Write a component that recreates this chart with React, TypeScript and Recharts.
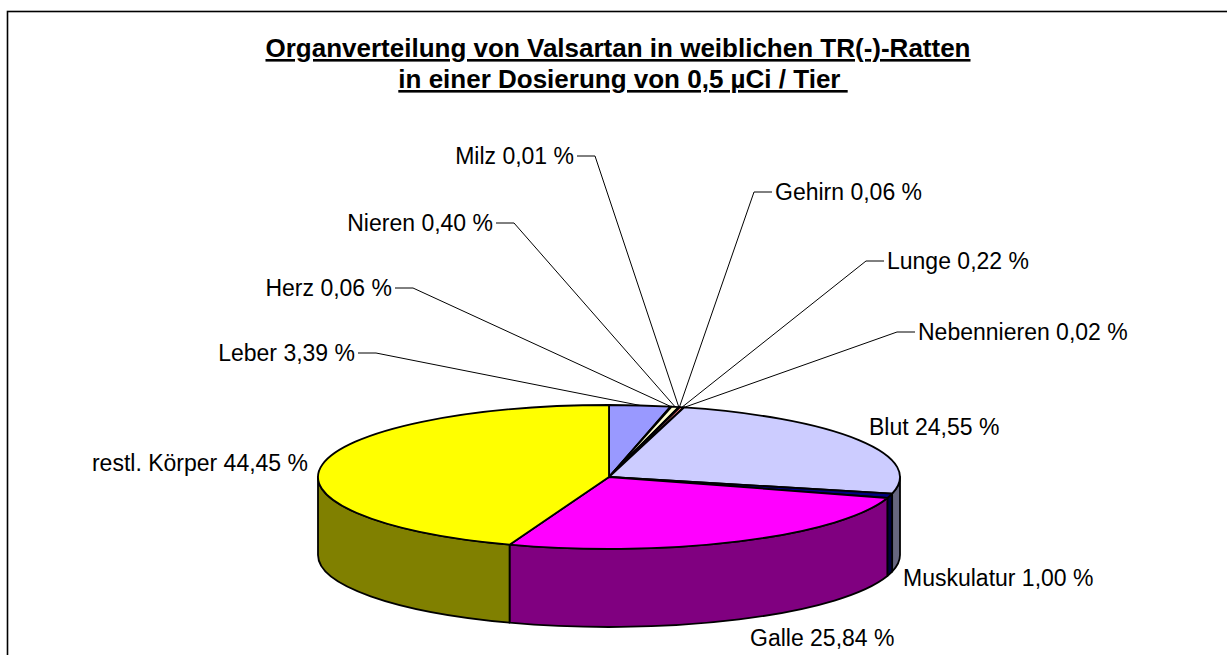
import React from 'react'
import { PieChart, Pie } from 'recharts'

// Organverteilung, Anteile in %
const organs = ['Leber', 'Herz', 'Nieren', 'Milz', 'Gehirn', 'Lunge', 'Nebennieren', 'Blut', 'Muskulatur', 'Galle', 'restl. Körper']
const shares = [3.39, 0.06, 0.4, 0.01, 0.06, 0.22, 0.02, 24.55, 1.0, 25.84, 44.45]
// Excel default pie fills
const colors = ['#9999FF', '#993366', '#FFFFCC', '#CCFFFF', '#660066', '#FF8080', '#0066CC', '#CCCCFF', '#000080', '#FF00FF', '#FFFF00']

const titleLines = ['Organverteilung von Valsartan in weiblichen TR(-)-Ratten', 'in einer Dosierung von 0,5 µCi / Tier\u00a0']

const data = organs.map((name, i) => ({ name, value: shares[i] }))

// labels were dragged by hand in the original, so keep their spots here
type LabelSpot = { x: number; y: number; side: 'left' | 'right'; leader: boolean }
const labelSpots: Record<string, LabelSpot> = {
  Leber: { x: 376, y: 353, side: 'left', leader: true },
  Herz: { x: 413, y: 288, side: 'left', leader: true },
  Nieren: { x: 514, y: 223, side: 'left', leader: true },
  Milz: { x: 595, y: 156, side: 'left', leader: true },
  Gehirn: { x: 754, y: 192, side: 'right', leader: true },
  Lunge: { x: 866, y: 261, side: 'right', leader: true },
  Nebennieren: { x: 897, y: 332, side: 'right', leader: true },
  Blut: { x: 869, y: 427, side: 'right', leader: false },
  Muskulatur: { x: 903, y: 578, side: 'right', leader: false },
  Galle: { x: 750, y: 638, side: 'right', leader: false },
  'restl. Körper': { x: 308, y: 463, side: 'left', leader: false },
}

const FONT = '"Liberation Sans", Arial, sans-serif'
const TILT = 72 / 291
const DEPTH = 78
const RAD = Math.PI / 180

const darker = (hex: string) => {
  const n = parseInt(hex.slice(1), 16)
  const r = (n >> 16) & 255, g = (n >> 8) & 255, b = n & 255
  return `rgb(${Math.round(r / 2)},${Math.round(g / 2)},${Math.round(b / 2)})`
}

function Slice3D(props: any) {
  const { cx, cy, outerRadius, startAngle, endAngle, midAngle, index, name, value } = props
  const rx = outerRadius
  const ry = outerRadius * TILT
  const p = (a: number, dy = 0) => `${cx + rx * Math.cos(a * RAD)},${cy - ry * Math.sin(a * RAD) + dy}`
  const s = Math.max(startAngle, endAngle)
  const e = Math.min(startAngle, endAngle)
  const large = s - e > 180 ? 1 : 0
  const color = colors[index]

  const top = `M${cx},${cy} L${p(s)} A${rx},${ry} 0 ${large} 1 ${p(e)} Z`

  // outer wall, only the part facing us (lower half of the ellipse)
  const lo = Math.max(e, -180)
  const hi = Math.min(s, 0)
  let wall = ''
  if (hi - lo > 0.001) {
    wall = `M${p(hi)} A${rx},${ry} 0 0 1 ${p(lo)} L${p(lo, DEPTH)} A${rx},${ry} 0 0 0 ${p(hi, DEPTH)} Z`
  }

  const spot = labelSpots[name]
  const text = `${name} ${value.toFixed(2).replace('.', ',')} %`
  const dir = spot.side === 'left' ? -1 : 1
  const mx = cx + rx * Math.cos(midAngle * RAD)
  const my = cy - ry * Math.sin(midAngle * RAD)

  return (
    <g>
      {wall && <path d={wall} fill={darker(color)} stroke="#000" strokeWidth={1.8} strokeLinejoin="round" />}
      <path d={top} fill={color} stroke="#000" strokeWidth={1.8} strokeLinejoin="round" />
      {spot.leader && (
        <polyline
          points={`${mx},${my} ${spot.x},${spot.y} ${spot.x + dir * 18},${spot.y}`}
          fill="none"
          stroke="#000"
          strokeWidth={1}
        />
      )}
      <text
        x={spot.leader ? spot.x + dir * 21 : spot.x}
        y={spot.y + 8}
        textAnchor={spot.side === 'left' ? 'end' : 'start'}
        fontFamily={FONT}
        fontSize={23}
        fill="#000"
      >
        {text}
      </text>
    </g>
  )
}

export default function App() {
  return (
    <div style={{ position: 'absolute', left: 0, top: 0, width: 1227, height: 655, background: '#fff' }}>
      <svg width={1227} height={655} style={{ position: 'absolute', left: 0, top: 0 }}>
        <rect x={7.5} y={11.5} width={1260} height={700} fill="#fff" stroke="#000" strokeWidth={1.6} />
        {titleLines.map((t, i) => (
          <text
            key={i}
            x={i === 0 ? 618 : 623}
            y={57 + i * 31}
            textAnchor="middle"
            fontFamily={FONT}
            fontWeight="bold"
            fontSize={26}
            textDecoration="underline"
            style={{ whiteSpace: 'pre' }}
            fill="#000"
          >
            {t}
          </text>
        ))}
      </svg>
      <div style={{ position: 'absolute', left: 0, top: 0 }}>
        <PieChart width={1227} height={655} margin={{ top: 0, right: 0, bottom: 0, left: 0 }}>
          <Pie
            data={data}
            dataKey="value"
            nameKey="name"
            cx={609}
            cy={477}
            outerRadius={291}
            startAngle={90}
            endAngle={-270}
            fill="none"
            stroke="none"
            label={Slice3D}
            labelLine={false}
            isAnimationActive={false}
          />
        </PieChart>
      </div>
    </div>
  )
}
